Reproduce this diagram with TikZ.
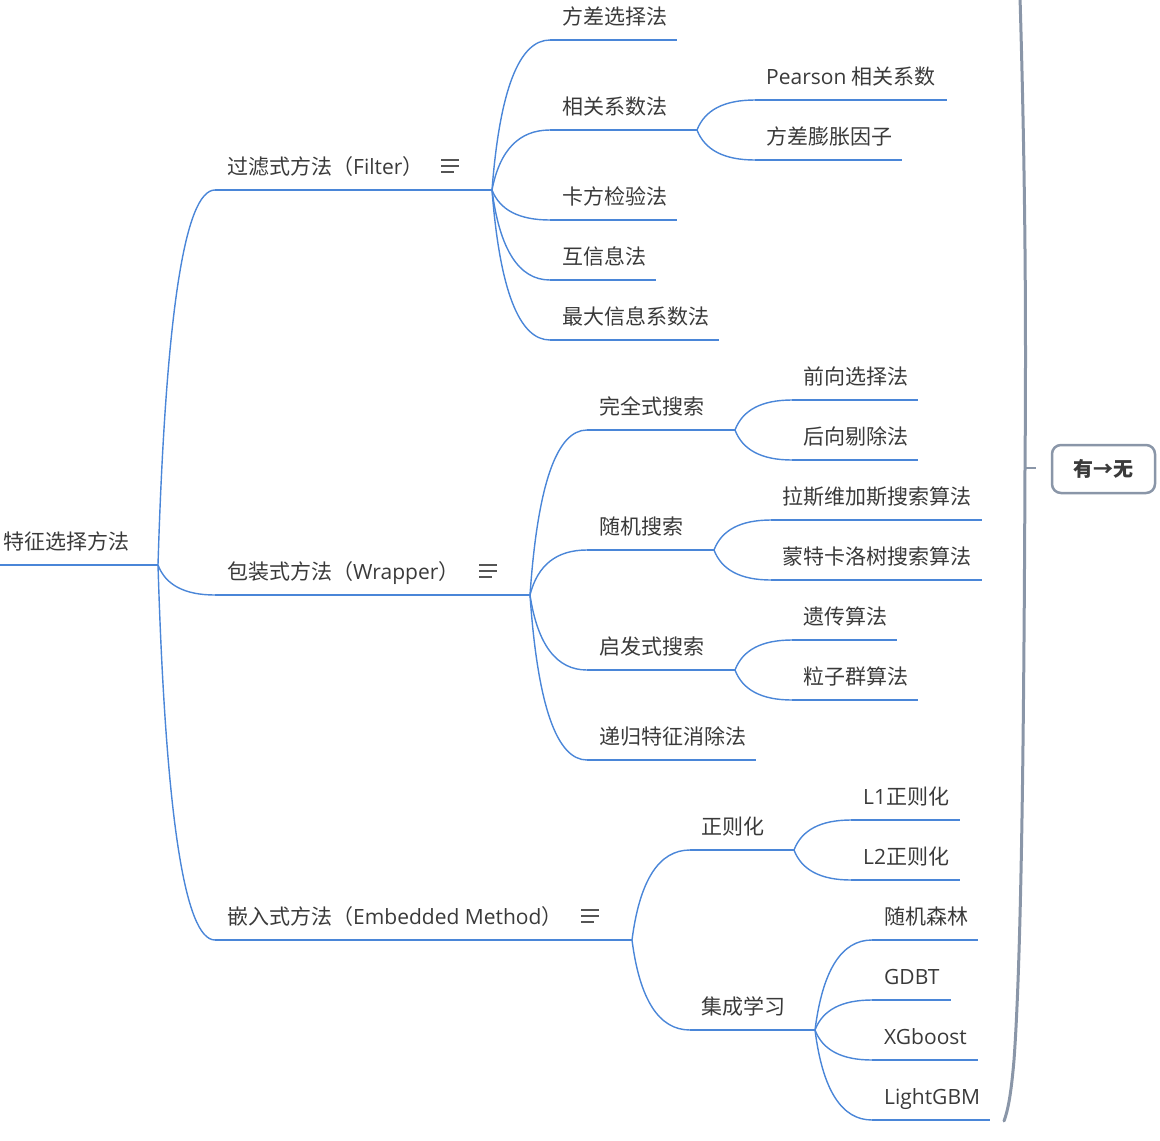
\documentclass[tikz,border=0pt]{standalone}
\usepackage{fontspec}
\usetikzlibrary{calc}
\setmainfont{Open Sans}
\newfontfamily\cjk{Noto Sans CJK SC}
\definecolor{brc}{HTML}{4A86D8}
\definecolor{txc}{HTML}{3A3A3A}
\definecolor{grc}{HTML}{8A96A8}
\definecolor{icc}{HTML}{555555}
\newcommand\tp[7]{%
  \coordinate (#1-s) at (#4,#6);
  \coordinate (#1-e) at (#5,#6);
  \node[topic] (#1) at (#2,#3+8) {#7};
  \draw[ul] (#1-s) -- (#1-e);}
\newcommand\cv[2]{\draw[ul] let \p1=(#1-e), \p2=(#2-s) in (#1-e)
  .. controls ({\x1+0.1333*(\x2-\x1)},{\y1+0.6667*(\y2-\y1)}) and ({\x1+0.4667*(\x2-\x1)},\y2) .. (#2-s);}
\newcommand\menuicon[3]{%
  \draw[menu] (#1,#2-6) -- ++(18,0);
  \draw[menu] (#1,#2) -- ++(18,0);
  \draw[menu] (#1,#2+6) -- ++(13,0);}
\begin{document}
\begin{tikzpicture}[x=1pt,y=-1pt,
  topic/.style={anchor=base west,inner sep=0pt,text=txc,font=\fontsize{21}{25}\selectfont},
  ul/.style={draw=brc,line width=1.4pt},
  menu/.style={draw=icc,line width=2pt},
  grline/.style={draw=grc,line width=3pt,line cap=round},
  resbox/.style={draw=grc,line width=2.5pt,rounded corners=9pt,minimum width=103pt,minimum height=48pt,inner sep=0pt,text=txc,font=\fontsize{20}{24}\selectfont}]
\useasboundingbox (0,0) rectangle (1160,1141);
% root
\tp{root}{3}{541}{0}{158}{565}{\cjk 特征选择方法}
% level 1
\tp{fil}{227}{166}{215}{492}{190}{{\cjk 过滤式方法（}Filter{\cjk ）}}
\tp{wra}{227}{571}{215}{530}{595}{{\cjk 包装式方法（}Wrapper{\cjk ）}}
\tp{emb}{227}{916}{215}{632}{940}{{\cjk 嵌入式方法（}Embedded Method{\cjk ）}}
\menuicon{441}{166}{fil}
\menuicon{479}{571}{wra}
\menuicon{581}{916}{emb}
\cv{root}{fil}\cv{root}{wra}\cv{root}{emb}
% filter children
\tp{f1}{562}{16}{550}{677}{40}{\cjk 方差选择法}
\tp{f2}{562}{106}{550}{697}{130}{\cjk 相关系数法}
\tp{f3}{562}{196}{550}{677}{220}{\cjk 卡方检验法}
\tp{f4}{562}{256}{550}{656}{280}{\cjk 互信息法}
\tp{f5}{562}{316}{550}{719}{340}{\cjk 最大信息系数法}
\cv{fil}{f1}\cv{fil}{f2}\cv{fil}{f3}\cv{fil}{f4}\cv{fil}{f5}
\tp{f2a}{766}{76}{755}{947}{100}{Pearson {\cjk 相关系数}}
\tp{f2b}{766}{136}{755}{902}{160}{\cjk 方差膨胀因子}
\cv{f2}{f2a}\cv{f2}{f2b}
% wrapper children
\tp{w1}{599}{406}{587}{735}{430}{\cjk 完全式搜索}
\tp{w2}{599}{526}{587}{714}{550}{\cjk 随机搜索}
\tp{w3}{599}{646}{587}{735}{670}{\cjk 启发式搜索}
\tp{w4}{599}{736}{587}{756}{760}{\cjk 递归特征消除法}
\cv{wra}{w1}\cv{wra}{w2}\cv{wra}{w3}\cv{wra}{w4}
\tp{w1a}{803}{376}{792}{918}{400}{\cjk 前向选择法}
\tp{w1b}{803}{436}{792}{918}{460}{\cjk 后向剔除法}
\cv{w1}{w1a}\cv{w1}{w1b}
\tp{w2a}{782}{496}{771}{982}{520}{\cjk 拉斯维加斯搜索算法}
\tp{w2b}{782}{556}{771}{982}{580}{\cjk 蒙特卡洛树搜索算法}
\cv{w2}{w2a}\cv{w2}{w2b}
\tp{w3a}{803}{616}{792}{897}{640}{\cjk 遗传算法}
\tp{w3b}{803}{676}{792}{918}{700}{\cjk 粒子群算法}
\cv{w3}{w3a}\cv{w3}{w3b}
% embedded children
\tp{e1}{701}{826}{690}{794}{850}{\cjk 正则化}
\tp{e2}{701}{1006}{690}{815}{1030}{\cjk 集成学习}
\cv{emb}{e1}\cv{emb}{e2}
\tp{e1a}{863}{796}{851}{960}{820}{L1{\cjk 正则化}}
\tp{e1b}{863}{856}{851}{960}{880}{L2{\cjk 正则化}}
\cv{e1}{e1a}\cv{e1}{e1b}
\tp{e2a}{884}{916}{872}{978}{940}{\cjk 随机森林}
\tp{e2b}{884}{976}{872}{951}{1000}{GDBT}
\tp{e2c}{884}{1036}{872}{978}{1060}{XGboost}
\tp{e2d}{884}{1096}{872}{990}{1120}{LightGBM}
\cv{e2}{e2a}\cv{e2}{e2b}\cv{e2}{e2c}\cv{e2}{e2d}
% summary bracket
\coordinate (btop) at (1020,-3);
\coordinate (bmid) at (1025,468);
\coordinate (blow) at (1014,1060);
\coordinate (bend) at (1004,1121);
\coordinate (tick) at (1036,468);
\draw[grline] (btop) .. controls (1026,200) and (1026,350) .. (bmid)
  .. controls (1024,700) and (1022,950) .. (blow)
  .. controls (1011,1095) and (1008,1110) .. (bend);
\draw[draw=grc,line width=2.5pt] (bmid) -- (tick);
\node[resbox] (res) at (1103.5,469) {\cjk\bfseries 有→无};
\end{tikzpicture}
\end{document}
